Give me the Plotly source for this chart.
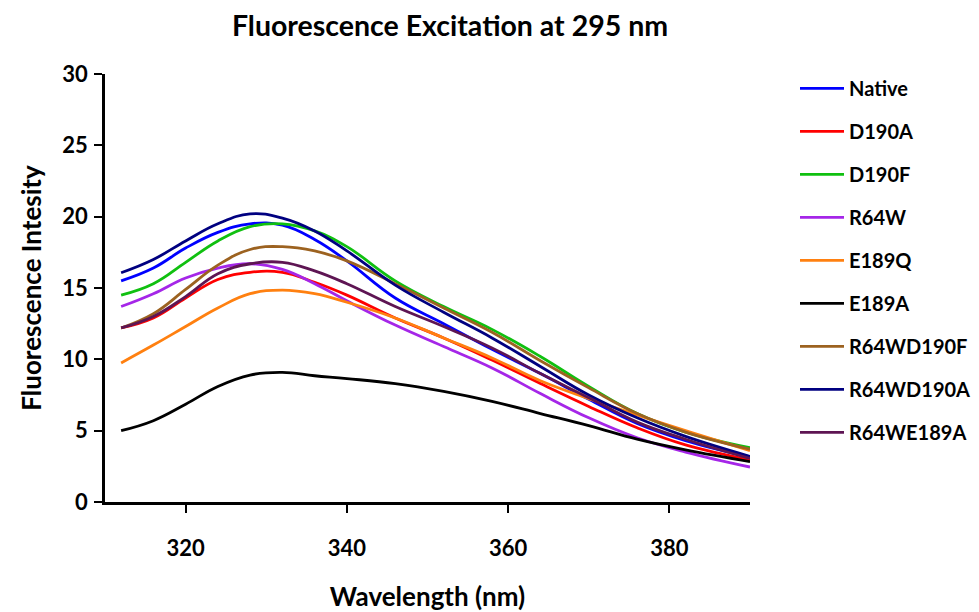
import plotly.graph_objects as go

wavelength = [312, 316, 320, 324, 328, 332, 336, 340, 346, 352, 358, 364, 370, 376, 382, 390]

native     = [15.5, 16.4, 17.8, 18.9, 19.5, 19.4, 18.4, 16.9, 14.3, 12.5, 10.7, 9.0, 7.2, 5.5, 4.3, 3.15]
d190a      = [12.2, 12.9, 14.3, 15.6, 16.1, 16.1, 15.4, 14.5, 12.9, 11.5, 9.95, 8.3, 6.7, 5.2, 4.0, 2.95]
d190f      = [14.5, 15.3, 16.8, 18.3, 19.3, 19.5, 19.0, 17.9, 15.5, 13.7, 12.1, 10.2, 8.1, 6.2, 4.9, 3.8]
r64w       = [13.7, 14.6, 15.7, 16.4, 16.7, 16.3, 15.3, 14.1, 12.4, 10.9, 9.4, 7.6, 5.9, 4.5, 3.5, 2.45]
e189q      = [9.75, 11.0, 12.3, 13.6, 14.6, 14.85, 14.6, 14.0, 12.9, 11.5, 10.1, 8.5, 7.25, 6.1, 5.0, 3.6]
e189a      = [5.0, 5.7, 6.85, 8.1, 8.9, 9.08, 8.85, 8.65, 8.3, 7.75, 7.05, 6.2, 5.35, 4.4, 3.65, 2.83]
r64wd190f  = [12.2, 13.2, 14.9, 16.6, 17.7, 17.9, 17.6, 16.9, 15.3, 13.6, 11.9, 9.9, 8.0, 6.2, 4.9, 3.7]
r64wd190a  = [16.07, 17.0, 18.3, 19.5, 20.2, 19.9, 19.0, 17.6, 15.2, 13.3, 11.5, 9.5, 7.5, 5.9, 4.6, 3.2]
r64we189a  = [12.2, 13.0, 14.4, 16.0, 16.7, 16.8, 16.2, 15.3, 13.7, 12.3, 10.8, 9.0, 7.3, 5.6, 4.4, 3.05]

names = ["Native", "D190A", "D190F", "R64W", "E189Q", "E189A",
         "R64WD190F", "R64WD190A", "R64WE189A"]
series = [native, d190a, d190f, r64w, e189q, e189a, r64wd190f, r64wd190a, r64we189a]
colors = ["#0000FF", "#FF0000", "#10C010", "#A526E8", "#FF8010", "#000000",
          "#9C6220", "#000080", "#5E1553"]

x_ticks = [320, 340, 360, 380]
y_ticks = [0, 5, 10, 15, 20, 25, 30]

FONT = "Lato"

fig = go.Figure()
for i, (n, s, c) in enumerate(zip(names, series, colors)):
    fig.add_trace(go.Scatter(
        x=wavelength, y=s, name=n, mode="lines",
        line=dict(color=c, width=2.8, shape="spline", smoothing=1.2),
        legendgroup=f"g{i}",
    ))

fig.update_layout(
    width=979, height=612,
    margin=dict(l=105, r=229, t=74, b=110, autoexpand=False),
    paper_bgcolor="white", plot_bgcolor="white",
    font=dict(family=FONT, color="black", size=19, weight="bold"),
    title=dict(text="Fluorescence Excitation at 295 nm",
               font=dict(family=FONT, size=28.5, weight="bold", color="black"),
               xref="container", x=450/979, xanchor="center",
               yref="container", y=1 - 26/612, yanchor="middle"),
    showlegend=True,
    legend=dict(x=(795 - 105) / 645, xanchor="left", y=1.012, yanchor="top",
                font=dict(family=FONT, size=20, weight="bold", color="black"),
                tracegroupgap=14, itemwidth=44, maxheight=600,
                bgcolor="rgba(0,0,0,0)"),
)

fig.update_xaxes(
    range=[310, 390], tickvals=x_ticks, ticktext=[str(v) for v in x_ticks],
    showgrid=False, zeroline=False, showline=True, linecolor="black", linewidth=2.5,
    ticks="outside", ticklen=8, tickwidth=2, tickcolor="black",
    tickfont=dict(family=FONT, size=22, weight="bold"), ticklabelstandoff=17,
    title=dict(text="Wavelength (nm)", standoff=29,
               font=dict(family=FONT, size=26, weight="bold")),
)
fig.update_yaxes(
    range=[0, 30], tickvals=y_ticks,
    showgrid=False, zeroline=False, showline=True, linecolor="black", linewidth=2.5,
    ticks="outside", ticklen=8, tickwidth=2, tickcolor="black",
    tickfont=dict(family=FONT, size=22, weight="bold"), ticklabelstandoff=2,
    title=dict(text="Fluorescence Intesity", standoff=14,
               font=dict(family=FONT, size=26, weight="bold")),
)

fig.write_html("out.html")
